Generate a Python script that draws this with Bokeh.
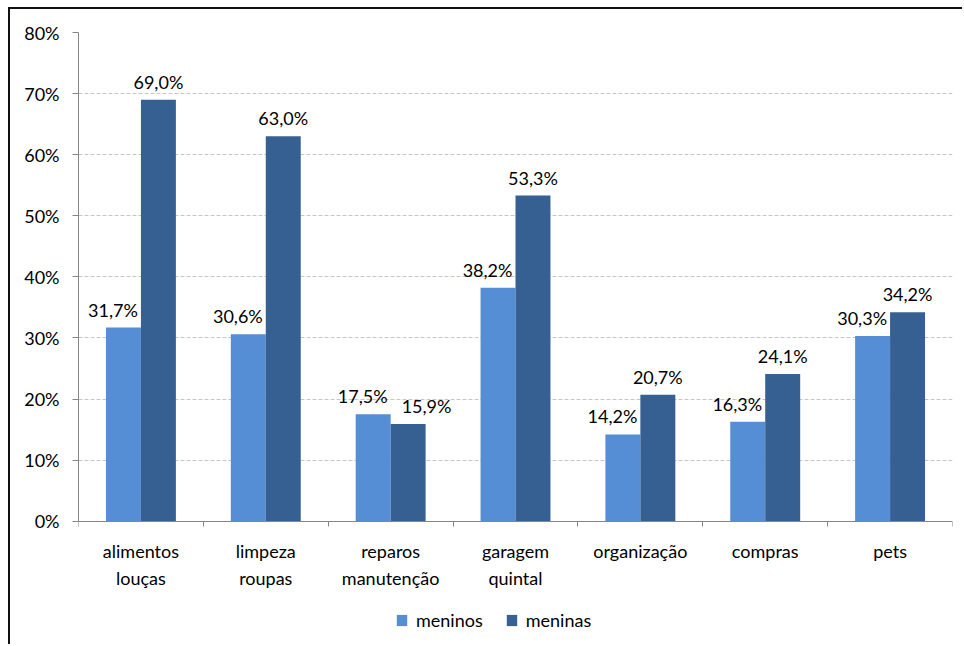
from bokeh.plotting import figure
from bokeh.models import (ColumnDataSource, FixedTicker, PrintfTickFormatter, LabelSet,
                          Legend, LegendItem, Range1d)
from bokeh.core.properties import value
from bokeh.transform import dodge
from bokeh.embed import file_html
from bokeh.resources import INLINE

categories = ["alimentos\nlouças", "limpeza\nroupas", "reparos\nmanutenção", "garagem\nquintal",
              "organização", "compras", "pets"]
meninos = [31.7, 30.6, 17.5, 38.2, 14.2, 16.3, 30.3]
meninas = [69.0, 63.0, 15.9, 53.3, 20.7, 24.1, 34.2]
y_ticks = [0, 10, 20, 30, 40, 50, 60, 70, 80]

FONT = "Lato"
FS = "18px"
C_BOYS = "#558ED5"
C_GIRLS = "#376092"
AXIS_C = "#868686"

def fmt(v):
    return f"{v:.1f}".replace(".", ",") + "%"

n = len(categories)
centers = [i + 0.5 for i in range(n)]
src = ColumnDataSource(dict(x=centers, boys=meninos, girls=meninas,
                            boys_lbl=[fmt(v) for v in meninos],
                            girls_lbl=[fmt(v) for v in meninas]))

# the frame extends below 0 so that the axis labels and legend live inside it
H, TOP, BOT = 644, 32, 4
frame_h = H - TOP - BOT
px_per_unit = 488.7 / 80.0
y_low = -(frame_h / px_per_unit - 80.0)

p = figure(width=962, height=H, output_backend="svg", toolbar_location=None,
           x_range=Range1d(0, n), y_range=Range1d(y_low, 80),
           min_border_left=78, min_border_right=10, min_border_top=TOP, min_border_bottom=BOT)
p.styles = {"background": "linear-gradient(#111111, #111111) 8px 7px / 2px 100% no-repeat, "
                          "linear-gradient(#111111, #111111) 8px 7px / 100% 2px no-repeat, #ffffff"}
p.outline_line_color = None
p.background_fill_color = "white"
p.border_fill_color = None

W = 0.28
r1 = p.vbar(x=dodge("x", -W / 2, range=p.x_range), top="boys", width=W, source=src,
            fill_color=C_BOYS, line_color=None)
r2 = p.vbar(x=dodge("x", W / 2, range=p.x_range), top="girls", width=W, source=src,
            fill_color=C_GIRLS, line_color=None)

lbl_style = dict(text_font=value(FONT), text_font_size=value(FS),
                 text_color=value("black"), text_baseline=value("alphabetic"))

# data labels
p.add_layout(LabelSet(x="x", y="boys", text="boys_lbl", source=src, text_align=value("right"),
                      x_offset=-3, y_offset=11, **lbl_style))
g_idx_c = [i for i in range(n) if meninas[i] >= meninos[i]]
g_idx_l = [i for i in range(n) if meninas[i] < meninos[i]]
src_gc = ColumnDataSource(dict(x=[centers[i] + W / 2 for i in g_idx_c],
                               y=[meninas[i] for i in g_idx_c],
                               t=[fmt(meninas[i]) for i in g_idx_c]))
src_gl = ColumnDataSource(dict(x=[centers[i] for i in g_idx_l],
                               y=[meninas[i] for i in g_idx_l],
                               t=[fmt(meninas[i]) for i in g_idx_l]))
p.add_layout(LabelSet(x="x", y="y", text="t", source=src_gc, text_align=value("center"),
                      y_offset=11, **lbl_style))
p.add_layout(LabelSet(x="x", y="y", text="t", source=src_gl, text_align=value("left"),
                      x_offset=11, y_offset=11, **lbl_style))

# y axis
p.yaxis.bounds = (0, 80)
p.yaxis.ticker = FixedTicker(ticks=y_ticks)
p.yaxis.formatter = PrintfTickFormatter(format="%d%%")
p.yaxis.axis_line_color = AXIS_C
p.yaxis.major_tick_line_color = AXIS_C
p.yaxis.major_tick_out = 6
p.yaxis.major_tick_in = 0
p.yaxis.minor_tick_line_color = None
p.yaxis.major_label_standoff = 13
p.yaxis.major_label_text_font = FONT
p.yaxis.major_label_text_font_size = FS
p.yaxis.major_label_text_color = "black"

# x axis (drawn at y = 0)
p.xaxis.fixed_location = 0
p.xaxis.ticker = FixedTicker(ticks=centers, minor_ticks=list(range(n + 1)))
p.xaxis.major_label_overrides = {c: lab for c, lab in zip(centers, categories)}
p.xaxis.axis_line_color = AXIS_C
p.xaxis.major_tick_line_color = None
p.xaxis.major_tick_out = 0
p.xaxis.minor_tick_line_color = AXIS_C
p.xaxis.minor_tick_out = 5
p.xaxis.minor_tick_in = 0
p.xaxis.major_label_standoff = 14
p.xaxis.major_label_text_font = FONT
p.xaxis.major_label_text_font_size = FS
p.xaxis.major_label_text_color = "black"
p.xaxis.major_label_text_line_height = 1.2

# grid
p.xgrid.grid_line_color = None
p.ygrid.ticker = FixedTicker(ticks=y_ticks[1:])
p.ygrid.grid_line_color = "#c6c6c6"
p.ygrid.grid_line_dash = "4 2"
p.ygrid.grid_line_width = 1

legend = Legend(items=[LegendItem(label="meninos", renderers=[r1]),
                       LegendItem(label="meninas", renderers=[r2])],
                orientation="horizontal", location=(317, 9),
                glyph_width=13, glyph_height=14, label_standoff=8, spacing=22,
                padding=0, margin=0, border_line_color=None, background_fill_alpha=0,
                label_text_font=FONT, label_text_font_size=FS, label_text_color="black")
p.add_layout(legend, "center")

open("out.html", "w").write(file_html(p, INLINE))
